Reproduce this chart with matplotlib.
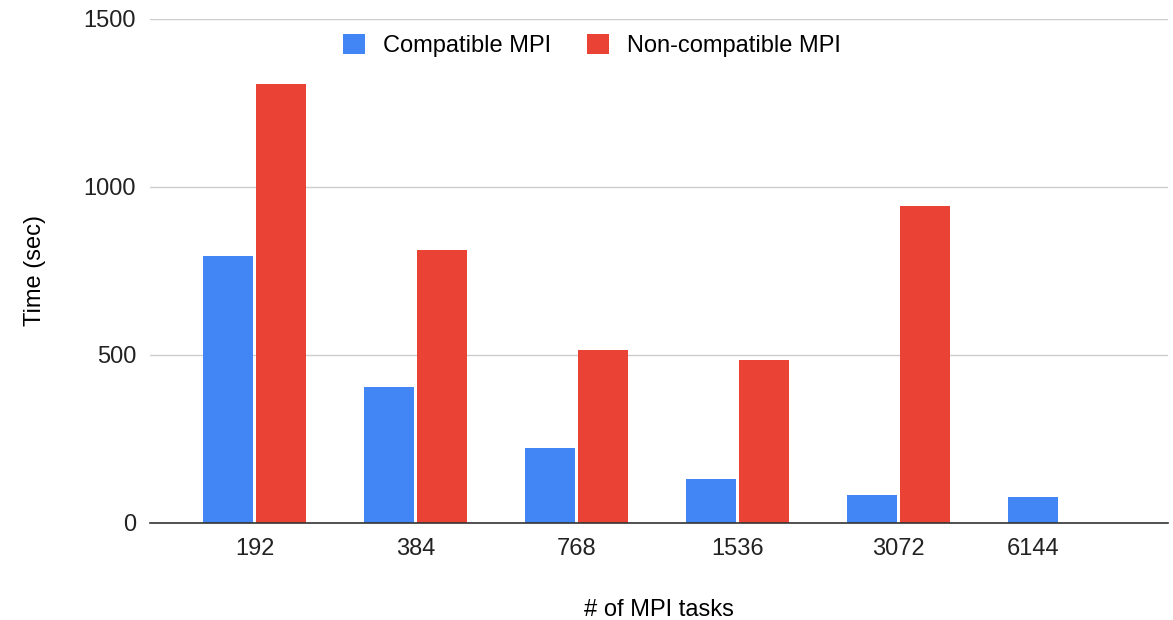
import numpy as np
import matplotlib.pyplot as plt
import matplotlib as mpl

tasks = ["192", "384", "768", "1536", "3072", "6144"]
compatible = [795, 405, 223, 131, 83, 77]
non_compatible = [1307, 812, 515, 485, 943, np.nan]

mpl.rcParams["font.family"] = ["Liberation Sans", "DejaVu Sans"]
mpl.rcParams["font.size"] = 17

fig = plt.figure(figsize=(11.73, 6.2), dpi=100)
ax = fig.add_axes([0.1279, 0.1565, 0.8678, 0.8129])

x = np.arange(len(tasks))
w = 0.31
gap = 0.01
blue_x = x - w / 2 - gap
red_x = x + w / 2 + gap
ax.bar(blue_x, compatible, w, color="#4285F4", label="Compatible MPI", zorder=2)
ax.bar(red_x, non_compatible, w, color="#EA4335", label="Non-compatible MPI", zorder=2)

# tick sits under the blue bar when the red one is missing
ticks = np.where(np.isnan(non_compatible), blue_x, x)

ax.set_xlim(-0.649, 5.674)
ax.set_ylim(0, 1500)
ax.set_yticks([0, 500, 1000, 1500])
ax.set_xticks(ticks)
ax.set_xticklabels(tasks)
ax.yaxis.grid(True, color="#cccccc", linewidth=1, zorder=0)
ax.set_axisbelow(True)

for s in ["top", "right", "left"]:
    ax.spines[s].set_visible(False)
ax.spines["bottom"].set_color("#333333")
ax.spines["bottom"].set_linewidth(1.2)
ax.tick_params(axis="y", length=0, pad=10, colors="#222222")
ax.tick_params(axis="x", length=0, pad=11, colors="#222222")

ax.set_ylabel("Time (sec)", labelpad=27)
ax.set_xlabel("# of MPI tasks", labelpad=28)

leg = ax.legend(loc="upper center", bbox_to_anchor=(0.434, 1.012), ncol=2, frameon=False,
                handlelength=0.93, handleheight=0.93, columnspacing=1.5, handletextpad=0.76)

fig.savefig("out.png", dpi=100)
